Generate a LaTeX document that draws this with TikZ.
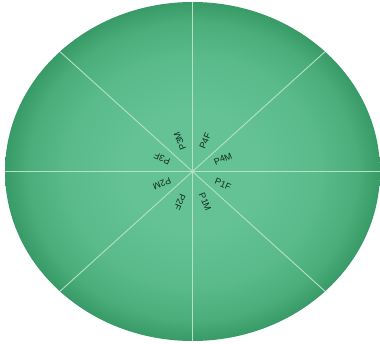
\documentclass[tikz,border=0pt]{standalone}
\usepackage{fontspec}
\setmainfont{Liberation Sans}
\usetikzlibrary{calc}
\definecolor{cin}{HTML}{64C295}
\definecolor{cm1}{HTML}{5ABA8A}
\definecolor{cm2}{HTML}{4AAD7A}
\definecolor{cout}{HTML}{389A66}
\definecolor{divline}{HTML}{B4E2C4}
\definecolor{labtxt}{HTML}{142A1E}
\pgfdeclareradialshading{lensshade}{\pgfpoint{0bp}{0bp}}{color(0bp)=(cin); color(9bp)=(cin); color(17bp)=(cm1); color(22bp)=(cm2); color(25bp)=(cout); color(50bp)=(cout)}
\begin{document}
\begin{tikzpicture}[x=1pt,y=1pt,
  divider/.style={draw=divline, line width=0.9pt},
  seglabel/.style={font=\fontsize{9}{10}\selectfont, text=labtxt, inner sep=0pt}]
\useasboundingbox (0,0) rectangle (380,343);
\def\cx{192.5}\def\cy{171.5}\def\rx{187.5}\def\ry{169.5}
\coordinate (c) at (\cx,\cy);
\path[shading=lensshade] (c) ellipse [x radius=\rx, y radius=\ry];
\foreach \a in {0,45,...,315} {
  \coordinate (e\a) at ({\cx+\rx*cos(\a)},{\cy+\ry*sin(\a)});
  \draw[divider] (c) -- (e\a);
}
\foreach \a/\t in {67.5/P4F, 22.5/P4M, -22.5/P1F, -67.5/P1M, -112.5/P2F, -157.5/P2M, 157.5/P3F, 112.5/P3M} {
  \node[seglabel, rotate=\a] (l\t) at ($(c)+(\a:33)$) {\t};
}
\end{tikzpicture}
\end{document}
